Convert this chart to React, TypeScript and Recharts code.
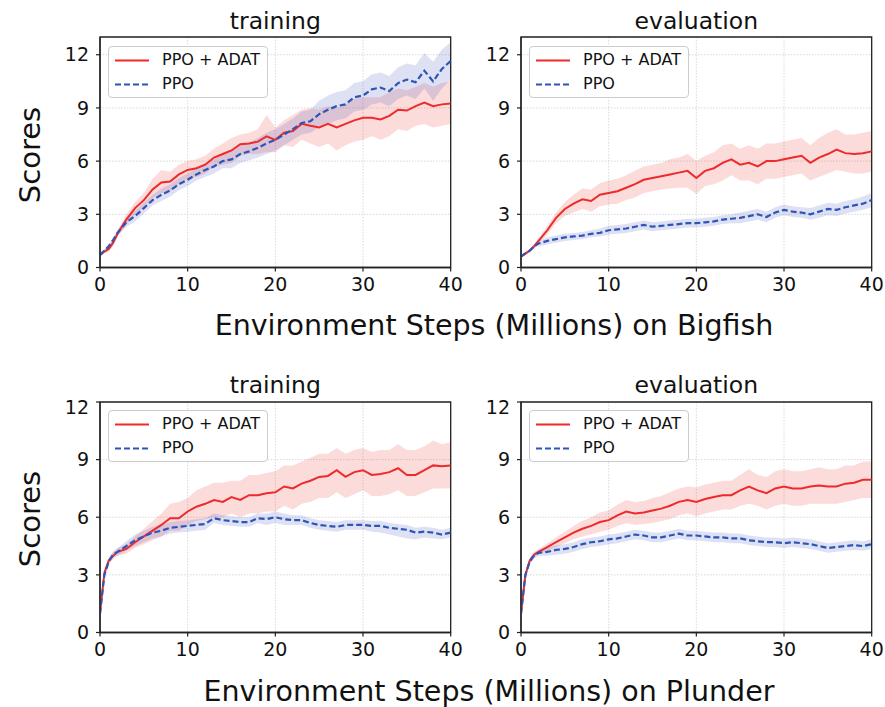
import React from "react";
import {
  ComposedChart,
  Line,
  Area,
  XAxis,
  YAxis,
  CartesianGrid,
  ReferenceArea,
} from "recharts";

// ---- shared x (environment steps, millions) ----
const steps = [0, 0.5, 1, 1.5, 2, 3, 4, 5, 6, 7, 8, 9, 10, 11, 12, 13, 14, 15, 16, 17, 18, 19, 20, 21, 22, 23, 24, 25, 26, 27, 28, 29, 30, 31, 32, 33, 34, 35, 36, 37, 38, 39, 40];
const xTicks = [0, 10, 20, 30, 40];
const yTicks = [0, 3, 6, 9, 12];
const seriesNames = ["PPO + ADAT", "PPO"];
const panelTitles = ["training", "evaluation"];
const envNames = ["Bigfish", "Plunder"];

// ---- Bigfish training ----
const bfTrainAdat = [0.7, 0.9, 1.05, 1.4, 1.9, 2.7, 3.35, 3.8, 4.4, 4.8, 4.85, 5.25, 5.5, 5.6, 5.8, 6.2, 6.4, 6.6, 6.95, 7.0, 7.1, 7.4, 7.2, 7.6, 7.7, 8.1, 8.0, 7.9, 8.1, 7.9, 8.1, 8.3, 8.45, 8.45, 8.35, 8.55, 8.9, 8.85, 9.1, 9.3, 9.1, 9.2, 9.25];
const bfTrainAdatHi = [0.8, 1.0, 1.2, 1.6, 2.1, 3.0, 3.7, 4.2, 5.0, 5.5, 5.4, 5.8, 6.0, 6.1, 6.3, 6.7, 7.0, 7.3, 7.5, 7.6, 7.8, 8.6, 7.9, 8.3, 8.6, 8.9, 9.0, 8.9, 9.1, 9.0, 9.2, 9.5, 9.6, 9.6, 9.6, 9.9, 10.1, 10.0, 10.2, 10.4, 10.2, 10.4, 10.5];
const bfTrainAdatLo = [0.6, 0.8, 0.9, 1.2, 1.7, 2.4, 3.0, 3.4, 3.9, 4.2, 4.3, 4.7, 5.0, 5.1, 5.3, 5.7, 5.8, 5.9, 6.3, 6.4, 6.4, 6.5, 6.5, 6.9, 6.8, 7.2, 7.0, 6.8, 7.0, 6.6, 6.9, 7.1, 7.2, 7.4, 7.2, 7.4, 7.8, 7.7, 8.0, 8.1, 7.9, 8.0, 8.1];
const bfTrainPpo = [0.7, 0.95, 1.2, 1.55, 1.95, 2.55, 2.9, 3.35, 3.8, 4.1, 4.35, 4.7, 4.95, 5.25, 5.5, 5.7, 6.0, 6.1, 6.4, 6.55, 6.75, 7.0, 7.2, 7.5, 7.8, 8.15, 8.25, 8.65, 8.9, 9.1, 9.2, 9.6, 9.7, 10.05, 10.15, 9.95, 10.4, 10.6, 10.45, 11.1, 10.5, 11.2, 11.65];
const bfTrainPpoHi = [0.8, 1.05, 1.3, 1.7, 2.1, 2.8, 3.2, 3.65, 4.1, 4.45, 4.7, 5.05, 5.3, 5.6, 5.9, 6.1, 6.4, 6.6, 6.9, 7.05, 7.3, 7.6, 7.8, 8.1, 8.4, 8.8, 8.9, 9.4, 9.7, 9.9, 10.0, 10.4, 10.5, 10.9, 11.0, 10.8, 11.3, 11.5, 11.4, 12.1, 11.6, 12.3, 12.7];
const bfTrainPpoLo = [0.6, 0.85, 1.1, 1.4, 1.8, 2.3, 2.6, 3.05, 3.5, 3.75, 4.0, 4.35, 4.6, 4.9, 5.1, 5.3, 5.6, 5.6, 5.9, 6.05, 6.2, 6.4, 6.6, 6.9, 7.2, 7.5, 7.6, 7.9, 8.1, 8.3, 8.4, 8.8, 8.9, 9.2, 9.3, 9.1, 9.5, 9.7, 9.5, 10.1, 9.4, 10.1, 10.6];

// ---- Bigfish evaluation ----
const bfEvalAdat = [0.62, 0.78, 0.96, 1.2, 1.5, 2.1, 2.8, 3.3, 3.6, 3.85, 3.75, 4.1, 4.2, 4.3, 4.5, 4.7, 4.95, 5.05, 5.15, 5.25, 5.35, 5.45, 5.05, 5.45, 5.6, 5.9, 6.1, 5.8, 5.9, 5.7, 6.0, 6.0, 6.1, 6.2, 6.3, 5.9, 6.2, 6.4, 6.65, 6.45, 6.4, 6.45, 6.55];
const bfEvalAdatHi = [0.7, 0.85, 1.05, 1.3, 1.65, 2.35, 3.1, 3.7, 4.1, 4.45, 4.4, 4.75, 4.9, 5.0, 5.2, 5.45, 5.7, 5.8, 5.9, 6.1, 6.2, 6.4, 6.0, 6.3, 6.5, 6.9, 7.0, 6.7, 6.9, 6.7, 7.0, 7.0, 7.1, 7.2, 7.3, 6.9, 7.3, 7.6, 7.8, 7.5, 7.5, 7.6, 7.7];
const bfEvalAdatLo = [0.55, 0.7, 0.88, 1.1, 1.35, 1.85, 2.5, 2.9, 3.1, 3.3, 3.15, 3.45, 3.55, 3.6, 3.8, 3.95, 4.2, 4.3, 4.4, 4.45, 4.5, 4.5, 4.15, 4.6, 4.7, 4.9, 5.2, 4.9, 4.9, 4.7, 5.0, 5.0, 5.1, 5.2, 5.3, 4.9, 5.1, 5.3, 5.5, 5.4, 5.3, 5.3, 5.4];
const bfEvalPpo = [0.62, 0.8, 0.95, 1.2, 1.35, 1.5, 1.6, 1.7, 1.75, 1.8, 1.9, 1.95, 2.1, 2.15, 2.2, 2.3, 2.4, 2.3, 2.35, 2.4, 2.45, 2.5, 2.5, 2.55, 2.6, 2.7, 2.75, 2.8, 2.9, 3.0, 2.85, 3.1, 3.25, 3.15, 3.1, 3.0, 3.15, 3.3, 3.25, 3.4, 3.5, 3.6, 3.8];
const bfEvalPpoHi = [0.7, 0.88, 1.05, 1.32, 1.5, 1.7, 1.8, 1.9, 1.95, 2.0, 2.1, 2.2, 2.35, 2.4, 2.45, 2.55, 2.65, 2.55, 2.6, 2.65, 2.7, 2.75, 2.75, 2.8, 2.85, 2.95, 3.0, 3.1, 3.2, 3.3, 3.15, 3.4, 3.55, 3.45, 3.4, 3.35, 3.5, 3.65, 3.6, 3.75, 3.85, 4.0, 4.2];
const bfEvalPpoLo = [0.55, 0.72, 0.85, 1.08, 1.2, 1.3, 1.4, 1.5, 1.55, 1.6, 1.7, 1.75, 1.85, 1.9, 1.95, 2.05, 2.15, 2.05, 2.1, 2.15, 2.2, 2.25, 2.25, 2.3, 2.35, 2.45, 2.5, 2.5, 2.6, 2.7, 2.55, 2.8, 2.95, 2.85, 2.8, 2.7, 2.8, 2.95, 2.9, 3.05, 3.15, 3.25, 3.4];

// ---- Plunder training ----
const plTrainAdat = [1.0, 3.1, 3.75, 4.0, 4.2, 4.35, 4.7, 5.0, 5.3, 5.6, 5.95, 5.95, 6.3, 6.55, 6.7, 6.9, 6.8, 7.05, 6.9, 7.15, 7.15, 7.25, 7.3, 7.6, 7.5, 7.75, 7.9, 8.1, 8.15, 8.45, 8.1, 8.35, 8.45, 8.2, 8.25, 8.35, 8.55, 8.2, 8.2, 8.45, 8.7, 8.65, 8.7];
const plTrainAdatHi = [1.1, 3.3, 3.95, 4.2, 4.4, 4.6, 5.0, 5.4, 5.8, 6.2, 6.7, 6.8, 7.0, 7.4, 7.6, 7.8, 7.8, 7.9, 7.9, 8.2, 8.2, 8.3, 8.4, 8.7, 8.7, 8.9, 9.1, 9.3, 9.3, 9.6, 9.3, 9.5, 9.6, 9.4, 9.5, 9.5, 9.8, 9.5, 9.5, 9.7, 10.0, 9.8, 9.9];
const plTrainAdatLo = [0.9, 2.9, 3.55, 3.8, 4.0, 4.1, 4.4, 4.6, 4.8, 5.0, 5.3, 5.3, 5.6, 5.8, 5.9, 6.0, 6.0, 6.2, 6.0, 6.2, 6.2, 6.3, 6.3, 6.6, 6.4, 6.7, 6.8, 7.0, 7.0, 7.3, 7.0, 7.2, 7.4, 7.1, 7.1, 7.2, 7.4, 7.1, 7.1, 7.3, 7.5, 7.5, 7.5];
const plTrainPpo = [1.0, 3.0, 3.7, 4.05, 4.2, 4.5, 4.8, 5.0, 5.2, 5.3, 5.45, 5.5, 5.55, 5.6, 5.65, 5.95, 5.85, 5.8, 5.75, 5.75, 5.95, 5.9, 6.0, 5.9, 5.85, 5.85, 5.7, 5.6, 5.55, 5.5, 5.6, 5.6, 5.6, 5.55, 5.55, 5.45, 5.4, 5.35, 5.2, 5.25, 5.2, 5.1, 5.2];
const plTrainPpoHi = [1.1, 3.15, 3.85, 4.2, 4.4, 4.75, 5.1, 5.3, 5.5, 5.6, 5.75, 5.8, 5.85, 5.9, 5.95, 6.2, 6.1, 6.05, 6.0, 6.0, 6.2, 6.2, 6.3, 6.2, 6.1, 6.1, 5.95, 5.85, 5.8, 5.75, 5.85, 5.85, 5.85, 5.8, 5.8, 5.7, 5.65, 5.6, 5.45, 5.5, 5.45, 5.35, 5.45];
const plTrainPpoLo = [0.9, 2.85, 3.55, 3.9, 4.0, 4.25, 4.5, 4.7, 4.9, 5.0, 5.15, 5.2, 5.25, 5.3, 5.35, 5.7, 5.6, 5.55, 5.5, 5.5, 5.7, 5.6, 5.7, 5.6, 5.6, 5.6, 5.45, 5.35, 5.3, 5.25, 5.35, 5.35, 5.35, 5.25, 5.2, 5.1, 5.0, 4.9, 4.85, 4.95, 4.9, 4.85, 4.95];

// ---- Plunder evaluation ----
const plEvalAdat = [1.0, 3.0, 3.75, 4.05, 4.2, 4.45, 4.7, 4.95, 5.2, 5.4, 5.55, 5.75, 5.85, 6.1, 6.3, 6.2, 6.25, 6.35, 6.45, 6.6, 6.8, 6.9, 6.8, 6.95, 7.05, 7.15, 7.15, 7.4, 7.6, 7.4, 7.25, 7.5, 7.6, 7.5, 7.5, 7.6, 7.65, 7.6, 7.6, 7.75, 7.8, 7.95, 7.95];
const plEvalAdatHi = [1.1, 3.15, 3.9, 4.2, 4.35, 4.65, 4.95, 5.25, 5.55, 5.8, 6.0, 6.25, 6.35, 6.65, 6.9, 6.8, 6.85, 7.0, 7.1, 7.3, 7.5, 7.6, 7.55, 7.7, 7.8, 7.9, 7.9, 8.2, 8.5, 8.2, 8.1, 8.4, 8.5, 8.4, 8.4, 8.5, 8.6, 8.5, 8.5, 8.7, 8.7, 8.9, 8.9];
const plEvalAdatLo = [0.9, 2.85, 3.6, 3.9, 4.05, 4.25, 4.45, 4.65, 4.85, 5.0, 5.1, 5.25, 5.35, 5.55, 5.7, 5.6, 5.65, 5.7, 5.8, 5.9, 6.1, 6.2, 6.05, 6.2, 6.3, 6.4, 6.4, 6.6, 6.7, 6.6, 6.4, 6.6, 6.7, 6.6, 6.6, 6.7, 6.7, 6.7, 6.7, 6.8, 6.9, 7.0, 7.0];
const plEvalPpo = [1.0, 3.0, 3.7, 4.0, 4.15, 4.2, 4.3, 4.35, 4.45, 4.6, 4.7, 4.75, 4.85, 4.9, 5.0, 5.1, 5.05, 4.95, 4.95, 5.05, 5.15, 5.05, 5.05, 5.0, 4.95, 4.95, 4.9, 4.9, 4.8, 4.75, 4.7, 4.7, 4.65, 4.7, 4.65, 4.6, 4.5, 4.4, 4.45, 4.5, 4.55, 4.5, 4.6];
const plEvalPpoHi = [1.1, 3.15, 3.85, 4.15, 4.3, 4.4, 4.55, 4.6, 4.7, 4.85, 4.95, 5.0, 5.1, 5.15, 5.25, 5.35, 5.3, 5.2, 5.2, 5.3, 5.4, 5.3, 5.3, 5.25, 5.2, 5.2, 5.15, 5.15, 5.05, 5.0, 4.95, 4.95, 4.9, 4.95, 4.9, 4.85, 4.75, 4.65, 4.7, 4.75, 4.8, 4.75, 4.85];
const plEvalPpoLo = [0.9, 2.85, 3.55, 3.85, 4.0, 4.0, 4.05, 4.1, 4.2, 4.35, 4.45, 4.5, 4.6, 4.65, 4.75, 4.85, 4.8, 4.7, 4.7, 4.8, 4.9, 4.8, 4.8, 4.75, 4.7, 4.7, 4.65, 4.65, 4.55, 4.5, 4.45, 4.45, 4.4, 4.45, 4.4, 4.35, 4.25, 4.15, 4.2, 4.25, 4.3, 4.25, 4.35];

const RED = "#ee2a2a";
const BLUE = "#2d55b8";
const FONT = "DejaVu Sans, Verdana, sans-serif";

type Row = { x: number; am: number; ab: [number, number]; pm: number; pb: [number, number] };

function buildRows(
  am: number[], ahi: number[], alo: number[],
  pm: number[], phi: number[], plo: number[]
): Row[] {
  return steps.map((x, i) => ({
    x,
    am: am[i],
    ab: [alo[i], ahi[i]],
    pm: pm[i],
    pb: [plo[i], phi[i]],
  }));
}

const panels = [
  { title: panelTitles[0], yMax: 13, left: 100, top: 37.3, rows: buildRows(bfTrainAdat, bfTrainAdatHi, bfTrainAdatLo, bfTrainPpo, bfTrainPpoHi, bfTrainPpoLo) },
  { title: panelTitles[1], yMax: 13, left: 521, top: 37.3, rows: buildRows(bfEvalAdat, bfEvalAdatHi, bfEvalAdatLo, bfEvalPpo, bfEvalPpoHi, bfEvalPpoLo) },
  { title: panelTitles[0], yMax: 12, left: 100, top: 401.7, rows: buildRows(plTrainAdat, plTrainAdatHi, plTrainAdatLo, plTrainPpo, plTrainPpoHi, plTrainPpoLo) },
  { title: panelTitles[1], yMax: 12, left: 521, top: 401.7, rows: buildRows(plEvalAdat, plEvalAdatHi, plEvalAdatLo, plEvalPpo, plEvalPpoHi, plEvalPpoLo) },
];

const PLOT_W = 350.7;
const PLOT_H = 230.5;
const Y_AXIS_W = 50;
const X_AXIS_H = 34;
const M_RIGHT = 16;

function Panel({ p }: { p: typeof panels[number] }) {
  const chartLeft = p.left - Y_AXIS_W - 6;
  const chartTop = p.top - 6;
  const width = PLOT_W + Y_AXIS_W + 6 + M_RIGHT;
  const height = PLOT_H + X_AXIS_H + 12;
  return (
    <div style={{ position: "absolute", left: chartLeft, top: chartTop }}>
      <ComposedChart
        width={width}
        height={height}
        data={p.rows}
        margin={{ top: 6, right: M_RIGHT, left: 6, bottom: 6 }}
      >
        <CartesianGrid stroke="#cfcfcf" strokeDasharray="1.5 1.5" strokeWidth={0.8} />
        <XAxis
          dataKey="x"
          type="number"
          domain={[0, 40]}
          ticks={xTicks}
          height={X_AXIS_H}
          tickSize={4}
          tickMargin={6}
          axisLine={{ stroke: "#222", strokeWidth: 1.3 }}
          tickLine={{ stroke: "#222", strokeWidth: 1.2 }}
          tick={{ fill: "#111", fontSize: 19, fontFamily: FONT }}
          allowDataOverflow
        />
        <YAxis
          type="number"
          domain={[0, p.yMax]}
          ticks={yTicks}
          width={Y_AXIS_W}
          tickSize={4}
          tickMargin={7}
          axisLine={{ stroke: "#222", strokeWidth: 1.3 }}
          tickLine={{ stroke: "#222", strokeWidth: 1.2 }}
          tick={{ fill: "#111", fontSize: 19, fontFamily: FONT }}
          allowDataOverflow
        />
        <Area
          dataKey="ab"
          stroke="none"
          fill={RED}
          fillOpacity={0.17}
          isAnimationActive={false}
          type="linear"
        />
        <Area
          dataKey="pb"
          stroke="none"
          fill="#3b4cc0"
          fillOpacity={0.17}
          isAnimationActive={false}
          type="linear"
        />
        <Line
          dataKey="am"
          stroke={RED}
          strokeWidth={2}
          dot={false}
          isAnimationActive={false}
          type="linear"
        />
        <Line
          dataKey="pm"
          stroke={BLUE}
          strokeWidth={2.2}
          strokeDasharray="6 3"
          dot={false}
          isAnimationActive={false}
          type="linear"
        />
        <ReferenceArea
          x1={0}
          x2={40}
          y1={0}
          y2={p.yMax}
          fill="none"
          stroke="#222"
          strokeWidth={1.3}
          ifOverflow="visible"
        />
      </ComposedChart>
      {/* legend */}
      <div
        style={{
          position: "absolute",
          left: Y_AXIS_W + 6 + 8,
          top: 6 + 8.5,
          width: 160,
          height: 52,
          border: "1px solid #cccccc",
          borderRadius: 4,
          background: "rgba(255,255,255,0.85)",
          boxSizing: "border-box",
          fontFamily: FONT,
          fontSize: 16,
          color: "#111",
        }}
      >
        <svg width={40} height={52} style={{ position: "absolute", left: 0, top: 0 }}>
          <line x1={6} x2={42} y1={13.5} y2={13.5} stroke={RED} strokeWidth={2} />
          <line x1={6} x2={42} y1={37.5} y2={37.5} stroke={BLUE} strokeWidth={2.2} strokeDasharray="6 3" />
        </svg>
        <div style={{ position: "absolute", left: 53, top: 3, lineHeight: "20px", whiteSpace: "nowrap" }}>{seriesNames[0]}</div>
        <div style={{ position: "absolute", left: 53, top: 27, lineHeight: "20px", whiteSpace: "nowrap" }}>{seriesNames[1]}</div>
      </div>
    </div>
  );
}

export default function App() {
  return (
    <div style={{ position: "absolute", left: 0, top: 0, width: 885, height: 707, background: "#fff", overflow: "hidden" }}>
      {panels.map((p, i) => (
        <Panel key={i} p={p} />
      ))}
      <svg width={885} height={707} style={{ position: "absolute", left: 0, top: 0, pointerEvents: "none" }} fontFamily={FONT}>
        {panels.map((p, i) => (
          <text key={"t" + i} x={p.left + PLOT_W / 2} y={p.top - 8.5} textAnchor="middle" fontSize={23.5} fill="#111">
            {p.title}
          </text>
        ))}
        <text x={40} y={155} transform="rotate(-90 40 155)" textAnchor="middle" fontSize={29} fill="#111">Scores</text>
        <text x={40} y={519} transform="rotate(-90 40 519)" textAnchor="middle" fontSize={29} fill="#111">Scores</text>
        <text x={494} y={335} textAnchor="middle" fontSize={28.5} fill="#111">{"Environment Steps (Millions) on " + envNames[0]}</text>
        <text x={489} y={701} textAnchor="middle" fontSize={28.5} fill="#111">{"Environment Steps (Millions) on " + envNames[1]}</text>
      </svg>
    </div>
  );
}
